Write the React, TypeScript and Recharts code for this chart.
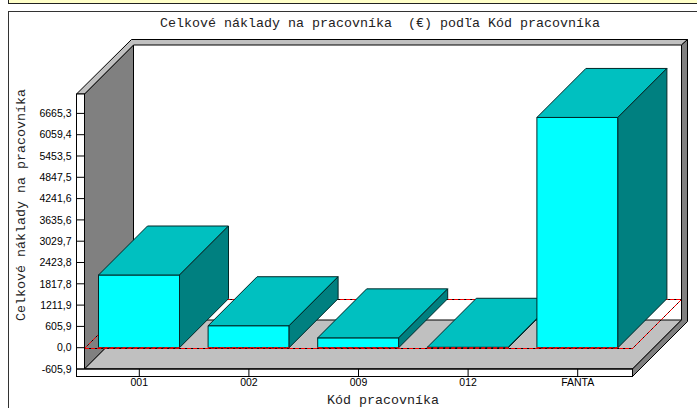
import { Bar, BarChart, Customized, XAxis, YAxis } from 'recharts'

const workers = ['001', '002', '009', '012', 'FANTA']
const costs = [2068, 625, 280, 12, 6550]
const yTicks = [-605.9, 0, 605.9, 1211.9, 1817.8, 2423.8, 3029.7, 3635.6, 4241.6, 4847.5, 5453.5, 6059.4, 6665.3]

const rows = workers.map((worker, i) => ({ worker, cost: costs[i] }))

const W = 697
const H = 408
const LEFT = 84.5
const RIGHT = 632.5
const TOP = 94
const BOTTOM = 369
const DEPTH = 49
const Y_MIN = -605.9
const Y_MAX = 7217

const zeroY = Math.round(BOTTOM - ((0 - Y_MIN) / (Y_MAX - Y_MIN)) * (BOTTOM - TOP)) + 0.5

const pts = (list: number[][]) => list.map(p => p.join(',')).join(' ')

const fmt = (v: number) => v.toFixed(1).replace('.', ',')

// room behind the bars: walls, floor, axis strips and the dashed zero plane
function Room() {
  const zeroPlane = pts([
    [LEFT, zeroY],
    [LEFT + DEPTH, zeroY - DEPTH],
    [RIGHT + DEPTH, zeroY - DEPTH],
    [RIGHT, zeroY],
  ])
  return (
    <g>
      <rect x={LEFT + DEPTH} y={TOP - DEPTH} width={RIGHT - LEFT} height={BOTTOM - TOP} fill="#fff" />
      <polygon
        points={pts([[LEFT, TOP], [LEFT + DEPTH, TOP - DEPTH], [LEFT + DEPTH, BOTTOM - DEPTH], [LEFT, BOTTOM]])}
        fill="#808080"
        stroke="#000"
      />
      <polygon
        points={pts([[LEFT, BOTTOM], [LEFT + DEPTH, BOTTOM - DEPTH], [RIGHT + DEPTH, BOTTOM - DEPTH], [RIGHT, BOTTOM]])}
        fill="#c0c0c0"
        stroke="#000"
      />
      <polygon
        points={pts([[76.5, TOP], [131.5, 39.5], [687.5, 39.5], [RIGHT + DEPTH, TOP - DEPTH], [LEFT + DEPTH, TOP - DEPTH], [LEFT, TOP]])}
        fill="#c0c0c0"
        stroke="#000"
      />
      <polygon
        points={pts([[RIGHT + DEPTH, TOP - DEPTH], [687.5, 39.5], [687.5, 321.5], [RIGHT, 376.5], [RIGHT, BOTTOM], [RIGHT + DEPTH, BOTTOM - DEPTH]])}
        fill="#808080"
        stroke="#000"
      />
      <rect x={76.5} y={TOP} width={LEFT - 76.5} height={376.5 - TOP} fill="#fff" stroke="#000" />
      <rect x={76.5} y={BOTTOM} width={RIGHT - 76.5} height={7.5} fill="#fff" stroke="#000" />
      <polygon points={zeroPlane} fill="none" stroke="#000" />
      <polygon points={zeroPlane} fill="none" stroke="#ff0000" strokeDasharray="4 2" />
    </g>
  )
}

function Cuboid({ x, y, width, height }: any) {
  const right = x + width
  const base = y + height
  return (
    <g stroke="#002828" strokeLinejoin="round">
      <rect x={x} y={y} width={width} height={height} fill="#00ffff" />
      <polygon
        points={pts([[x, y], [x + DEPTH, y - DEPTH], [right + DEPTH, y - DEPTH], [right, y]])}
        fill="#00c0c0"
      />
      <polygon
        points={pts([[right, y], [right + DEPTH, y - DEPTH], [right + DEPTH, base - DEPTH], [right, base]])}
        fill="#008080"
      />
      <line x1={x} y1={base} x2={right} y2={base} stroke="#ff0000" strokeDasharray="4 2" />
    </g>
  )
}

const tickText = { fill: '#000', fontSize: 10.5, fontFamily: '"Liberation Sans", Arial, sans-serif' }
const monoFont = '"Liberation Mono", "Courier New", monospace'

export default function App() {
  return (
    <div style={{ position: 'absolute', left: 0, top: 0, width: W, height: H, overflow: 'hidden', background: '#fff' }}>
      {/* page furniture around the chart */}
      <div style={{ position: 'absolute', left: 8, top: -4, width: W, height: 6, background: '#ffffc8', border: '1px solid #222' }} />
      <div style={{ position: 'absolute', left: 8, top: 11, width: W, height: H, borderTop: '1px solid #333', borderLeft: '1px solid #333' }} />
      <BarChart
        width={W}
        height={H}
        data={rows}
        margin={{ top: TOP, right: W - RIGHT, bottom: 0, left: 0 }}
        barCategoryGap={0}
        style={{ position: 'absolute', left: 0, top: 0 }}
      >
        <Customized component={Room} />
        <XAxis
          dataKey="worker"
          height={H - BOTTOM}
          axisLine={{ stroke: '#000' }}
          tickLine={{ stroke: '#000' }}
          tickSize={8}
          tick={tickText}
          interval={0}
        />
        <YAxis
          type="number"
          domain={[Y_MIN, Y_MAX]}
          ticks={yTicks}
          interval={0}
          width={LEFT}
          axisLine={{ stroke: '#000' }}
          tickLine={{ stroke: '#000' }}
          tickSize={8}
          tickMargin={5}
          tick={tickText}
          tickFormatter={fmt}
        />
        <Bar dataKey="cost" barSize={81} shape={Cuboid} isAnimationActive={false} />
        <text x={380} y={27} textAnchor="middle" fontFamily={monoFont} fontSize={13.33} fill="#222" xmlSpace="preserve" style={{ whiteSpace: 'pre' }}>
          Celkové náklady na pracovníka  (€) podľa Kód pracovníka
        </text>
        <text x={383} y={404} textAnchor="middle" fontFamily={monoFont} fontSize={13.33} fill="#222">
          Kód pracovníka
        </text>
        <text
          x={0}
          y={0}
          transform="translate(25 205) rotate(-90)"
          textAnchor="middle"
          fontFamily={monoFont}
          fontSize={13.33}
          fill="#222"
        >
          Celkové náklady na pracovníka
        </text>
      </BarChart>
    </div>
  )
}
